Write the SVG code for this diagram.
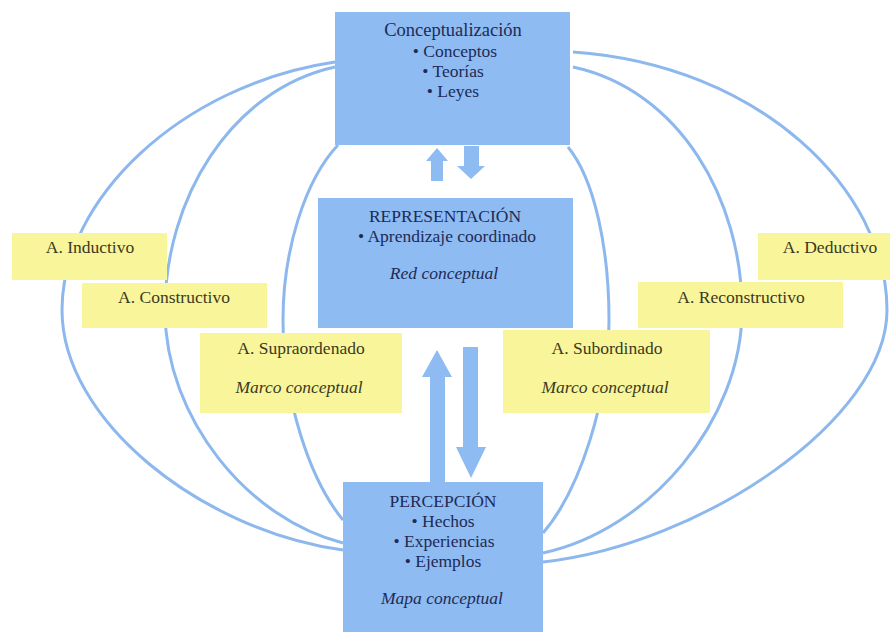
<svg xmlns="http://www.w3.org/2000/svg" width="891" height="634" viewBox="0 0 891 634">
<style>
.arc{fill:none;stroke:#8db8ee;stroke-width:3}
.arr{fill:#8dbbf2}
.blue{fill:#8dbbf2}
.yel{fill:#f9f59b}
.tb{fill:#1f2a55}
.ty{fill:#3c3a1e}
.it{font-style:italic}
</style>
<rect width="891" height="634" fill="#ffffff"/>
<g id="connectors">
<path class="arc" d="M335,62 C180,85 62,200 62,310 C62,420 200,530 343,550"/>
<path class="arc" d="M335,67 C230,90 165,200 165,310 C165,420 250,520 343,543"/>
<path class="arc" d="M338,145 C305,180 283,250 283,320 C283,400 310,480 343,520"/>
<path class="arc" d="M573,52 C760,65 887,190 887,310 C887,420 700,545 543,562"/>
<path class="arc" d="M573,67 C680,90 742,200 742,310 C742,420 650,530 543,553"/>
<path class="arc" d="M568,147 C595,180 609,250 609,320 C609,400 580,490 543,533"/>
<polygon class="arr" points="437,148 448,161 443,161 443,181 431,181 431,161 426,161"/>
<polygon class="arr" points="464,146 479,146 479,166 485,166 471,179 457,166 464,166"/>
<polygon class="arr" points="437,350 452,377 445,377 445,483 430,483 430,377 422,377"/>
<polygon class="arr" points="463,347 478,347 478,447 486,447 471,478 456,447 463,447"/>
</g>
<g font-family="'Liberation Serif', 'Times New Roman', serif" font-size="17.5" text-anchor="middle">
<g id="conceptualizacion">
<rect class="blue" x="335" y="12" width="235" height="133"/>
<text class="tb" x="453" y="36" font-size="18.5">Conceptualización</text>
<text class="tb" x="455" y="57">• Conceptos</text>
<text class="tb" x="453" y="77">• Teorías</text>
<text class="tb" x="453" y="97">• Leyes</text>
</g>
<g id="representacion">
<rect class="blue" x="318" y="198" width="255" height="130"/>
<text class="tb" x="445" y="222">REPRESENTACIÓN</text>
<text class="tb" x="447" y="242">• Aprendizaje coordinado</text>
<text class="tb it" x="444" y="279">Red conceptual</text>
</g>
<g id="percepcion">
<rect class="blue" x="343" y="482" width="200" height="150"/>
<text class="tb" x="443" y="507">PERCEPCIÓN</text>
<text class="tb" x="443" y="527">• Hechos</text>
<text class="tb" x="444" y="547">• Experiencias</text>
<text class="tb" x="443" y="567">• Ejemplos</text>
<text class="tb it" x="442" y="604">Mapa conceptual</text>
</g>
<g id="inductivo">
<rect class="yel" x="12" y="233" width="155" height="47"/>
<text class="ty" x="90" y="253">A. Inductivo</text>
</g>
<g id="constructivo">
<rect class="yel" x="82" y="283" width="185" height="45"/>
<text class="ty" x="174" y="303">A. Constructivo</text>
</g>
<g id="supraordenado">
<rect class="yel" x="200" y="333" width="202" height="80"/>
<text class="ty" x="301" y="354">A. Supraordenado</text>
<text class="ty it" x="299" y="393">Marco conceptual</text>
</g>
<g id="deductivo">
<rect class="yel" x="758" y="233" width="132" height="47"/>
<text class="ty" x="830" y="253">A. Deductivo</text>
</g>
<g id="reconstructivo">
<rect class="yel" x="638" y="282" width="205" height="46"/>
<text class="ty" x="741" y="303">A. Reconstructivo</text>
</g>
<g id="subordinado">
<rect class="yel" x="503" y="330" width="207" height="83"/>
<text class="ty" x="607" y="354">A. Subordinado</text>
<text class="ty it" x="605" y="393">Marco conceptual</text>
</g>
</g>
</svg>
